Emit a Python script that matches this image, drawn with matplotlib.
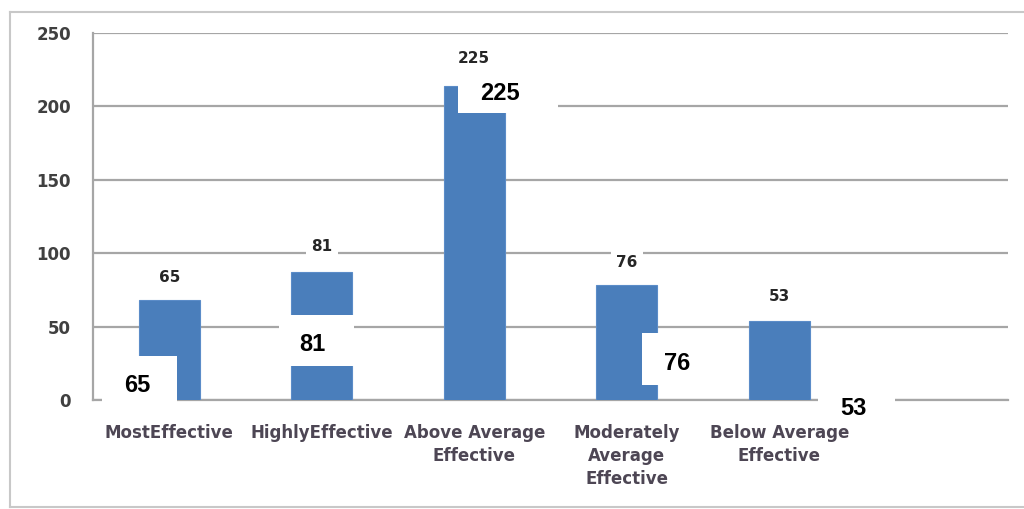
import matplotlib
matplotlib.use("Agg")
import matplotlib.pyplot as plt
from matplotlib.patches import Rectangle
from matplotlib.lines import Line2D

# ---- data ----
categories = ["MostEffective", "HighlyEffective", "Above Average\nEffective",
              "Moderately\nAverage\nEffective", "Below Average\nEffective"]
bar_heights = [68, 87, 214, 78, 54]          # bar tops as drawn
value_labels = ["65", "81", "225", "76", "53"]  # printed values
y_ticks = [0, 50, 100, 150, 200, 250]

# ---- styling / overlay offsets (relative to each bar) ----
box_offsets = [(-0.44, -1.4, 0.49, 31.4), (-0.28, 23.2, 0.49, 34.7),
               (-0.105, 195.5, 0.655, 33.5), (0.098, 10.2, 0.5, 35.4),
               (0.256, -12.3, 0.5, 20.5)]
box_text_offsets = [(-0.21, 10.2), (-0.06, 37.5), (0.17, 209), (0.33, 25.2), (0.485, -6.1)]
small_label_pts = [11, 13, 14, 11, 12]

fig = plt.figure(figsize=(10.24, 5.09), dpi=100)
ax = fig.add_axes([93/1024, 1-400/509, (1008-93)/1024, (400-33)/509])

grid_c = "#a6a6a6"
x = list(range(len(categories)))
ax.bar(x, bar_heights, width=0.40, color="#4a7ebb", edgecolor="#5b8cc8",
       linewidth=0.8, zorder=3)

ax.set_xlim(-0.5, 5.5)
ax.set_ylim(0, 250)
ax.set_yticks(y_ticks)
ax.set_yticklabels([str(v) for v in y_ticks], fontsize=12, fontweight="bold",
                   color="#404040", family="DejaVu Sans")
ax.set_xticks(x)
ax.set_xticklabels(categories, fontsize=12, fontweight="bold", color="#4d4654",
                   family="DejaVu Sans", linespacing=1.38)
ax.tick_params(axis="y", length=0, pad=16)
ax.tick_params(axis="x", length=0, pad=17)
ax.yaxis.grid(True, color=grid_c, linewidth=1.6, zorder=0)
ax.set_axisbelow(True)
for s in ["top", "right"]:
    ax.spines[s].set_visible(False)
ax.spines["left"].set_color(grid_c)
ax.spines["left"].set_linewidth(1.6)
ax.spines["bottom"].set_color(grid_c)
ax.spines["bottom"].set_linewidth(1.6)

# small data labels above bars
for i, (h, lab) in enumerate(zip(bar_heights, value_labels)):
    ax.annotate(lab, xy=(i, h), xytext=(0, small_label_pts[i]), textcoords="offset points",
                ha="center", va="bottom", fontsize=11, fontweight="bold", color="#262626",
                family="DejaVu Sans", zorder=4,
                bbox=dict(boxstyle="square,pad=0.35", fc="white", ec="none"))

# white boxes with bold labels
for i, lab in enumerate(value_labels):
    dx, y0, w, hh = box_offsets[i]
    ax.add_patch(Rectangle((i + dx, y0), w, hh, facecolor="white", edgecolor="none",
                           zorder=6, clip_on=False))
    tx, ty = box_text_offsets[i]
    ax.text(i + tx, ty, lab, ha="center", va="center", fontsize=17, fontweight="bold",
            color="black", family="Liberation Sans", zorder=7, clip_on=False)

# outer frame (left, top, bottom)
fc = "#c8c8c8"
xl, yt, yb = 10/1024, 1-12/509, 1-507/509
fig.lines.append(Line2D([xl, xl], [yb, yt], transform=fig.transFigure, color=fc, lw=1.5))
fig.lines.append(Line2D([xl, 1.0], [yt, yt], transform=fig.transFigure, color=fc, lw=1.5))
fig.lines.append(Line2D([xl, 1.0], [yb, yb], transform=fig.transFigure, color=fc, lw=1.5))

fig.savefig("out.png", dpi=100)
